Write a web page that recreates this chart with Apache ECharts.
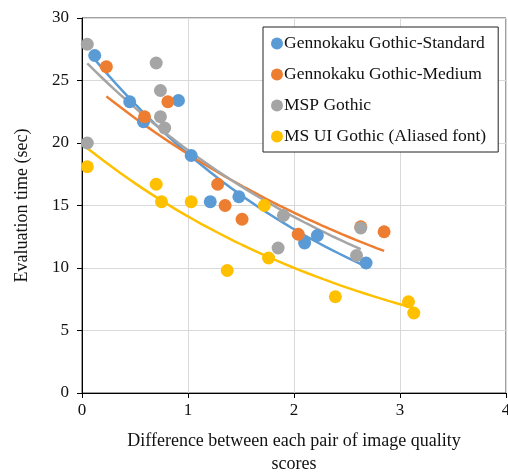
<!DOCTYPE html>
<html>
<head>
<meta charset="utf-8">
<title>Evaluation time</title>
<script src="https://cdn.jsdelivr.net/npm/echarts@6/dist/echarts.min.js"></script>
<style>
  html, body { margin: 0; padding: 0; background: #fff; }
  #chart { width: 508px; height: 474px; }
</style>
</head>
<body>
<div id="chart"></div>
<script>
// series names
var names = ['Gennokaku Gothic-Standard', 'Gennokaku Gothic-Medium', 'MSP Gothic', 'MS UI Gothic (Aliased font)'];
var colors = ['#5B9BD5', '#ED7D31', '#A5A5A5', '#FFC000'];

// [difference of quality scores, evaluation time]
var stdPts = [[0.12, 27.0], [0.45, 23.3], [0.58, 21.7], [0.91, 23.4], [1.03, 19.0],
  [1.21, 15.3], [1.48, 15.7], [2.10, 12.0], [2.22, 12.6], [2.68, 10.4]];
var medPts = [[0.23, 26.1], [0.59, 22.1], [0.81, 23.3], [1.28, 16.7], [1.35, 15.0],
  [1.51, 13.9], [2.04, 12.7], [2.63, 13.3], [2.85, 12.9]];
var mspPts = [[0.05, 27.9], [0.70, 26.4], [0.74, 24.2], [0.74, 22.1], [0.78, 21.2],
  [0.05, 20.0], [1.90, 14.2], [1.85, 11.6], [2.63, 13.2], [2.59, 11.0]];
var uiPts = [[0.05, 18.1], [0.70, 16.7], [0.75, 15.3], [1.03, 15.3], [1.37, 9.8],
  [1.72, 15.0], [1.76, 10.8], [2.39, 7.7], [3.08, 7.3], [3.13, 6.4]];
var allPts = [stdPts, medPts, mspPts, uiPts];

var xTicks = [0, 1, 2, 3, 4];
var yTicks = [0, 5, 10, 15, 20, 25, 30];

// exponential trendline (least squares on ln y), like the spreadsheet does
function expTrend(pts) {
  var n = pts.length, sx = 0, sy = 0, sxx = 0, sxy = 0;
  var xmin = Infinity, xmax = -Infinity;
  pts.forEach(function (p) {
    var ly = Math.log(p[1]);
    sx += p[0]; sy += ly; sxx += p[0] * p[0]; sxy += p[0] * ly;
    xmin = Math.min(xmin, p[0]); xmax = Math.max(xmax, p[0]);
  });
  var b = (n * sxy - sx * sy) / (n * sxx - sx * sx);
  var a = Math.exp((sy - b * sx) / n);
  var out = [];
  for (var i = 0; i <= 40; i++) {
    var x = xmin + (xmax - xmin) * i / 40;
    out.push([x, a * Math.exp(b * x)]);
  }
  return out;
}

var font = '"Liberation Serif", "Times New Roman", serif';
var series = [];
allPts.forEach(function (pts, i) {
  series.push({
    name: names[i] + ' trend',
    type: 'line',
    data: expTrend(pts),
    showSymbol: false,
    silent: true,
    lineStyle: { color: colors[i], width: 2.5 },
    z: 2
  });
});
allPts.forEach(function (pts, i) {
  series.push({
    name: names[i],
    type: 'scatter',
    data: pts,
    symbolSize: 13,
    itemStyle: { color: colors[i], opacity: 1 },
    z: 3
  });
});

var chart = echarts.init(document.getElementById('chart'), null, { renderer: 'canvas' });
chart.setOption({
  animation: false,
  color: colors,
  grid: {
    left: 82, right: 2, top: 18, bottom: 81,
    outerBoundsMode: 'none', containLabel: false,
    show: true, borderColor: '#404040', borderWidth: 1
  },
  legend: {
    data: names,
    orient: 'vertical',
    left: 263,
    top: 27,
    icon: 'circle',
    itemWidth: 12,
    itemHeight: 12,
    itemGap: 12,
    padding: [7, 12, 6, 8],
    backgroundColor: '#fff',
    borderColor: '#222',
    borderWidth: 1,
    textStyle: { fontFamily: font, fontSize: 17.5, lineHeight: 19, color: '#111', padding: [0, 0, 0, -4] }
  },
  xAxis: {
    type: 'value',
    min: xTicks[0],
    max: xTicks[xTicks.length - 1],
    interval: 1,
    name: 'Difference between each pair of image quality\nscores',
    nameLocation: 'middle',
    nameGap: 37,
    nameTextStyle: { fontFamily: font, fontSize: 18, color: '#111', lineHeight: 23, verticalAlign: 'top' },
    axisLine: { lineStyle: { color: '#000', width: 1 } },
    axisTick: { show: true, length: 5, lineStyle: { color: '#000' } },
    axisLabel: { fontFamily: font, fontSize: 17, color: '#111', margin: 9 },
    splitLine: { show: true, lineStyle: { color: '#d9d9d9', width: 1 } }
  },
  yAxis: {
    type: 'value',
    min: yTicks[0],
    max: yTicks[yTicks.length - 1],
    interval: 5,
    name: 'Evaluation time (sec)',
    nameLocation: 'middle',
    nameGap: 51,
    nameTextStyle: { fontFamily: font, fontSize: 18, color: '#111' },
    axisLine: { show: true, lineStyle: { color: '#000', width: 1 } },
    axisTick: { show: true, length: 5, lineStyle: { color: '#000' } },
    axisLabel: { fontFamily: font, fontSize: 17, color: '#111', margin: 13 },
    splitLine: { show: true, lineStyle: { color: '#d9d9d9', width: 1 } }
  },
  series: series
});
</script>
</body>
</html>
